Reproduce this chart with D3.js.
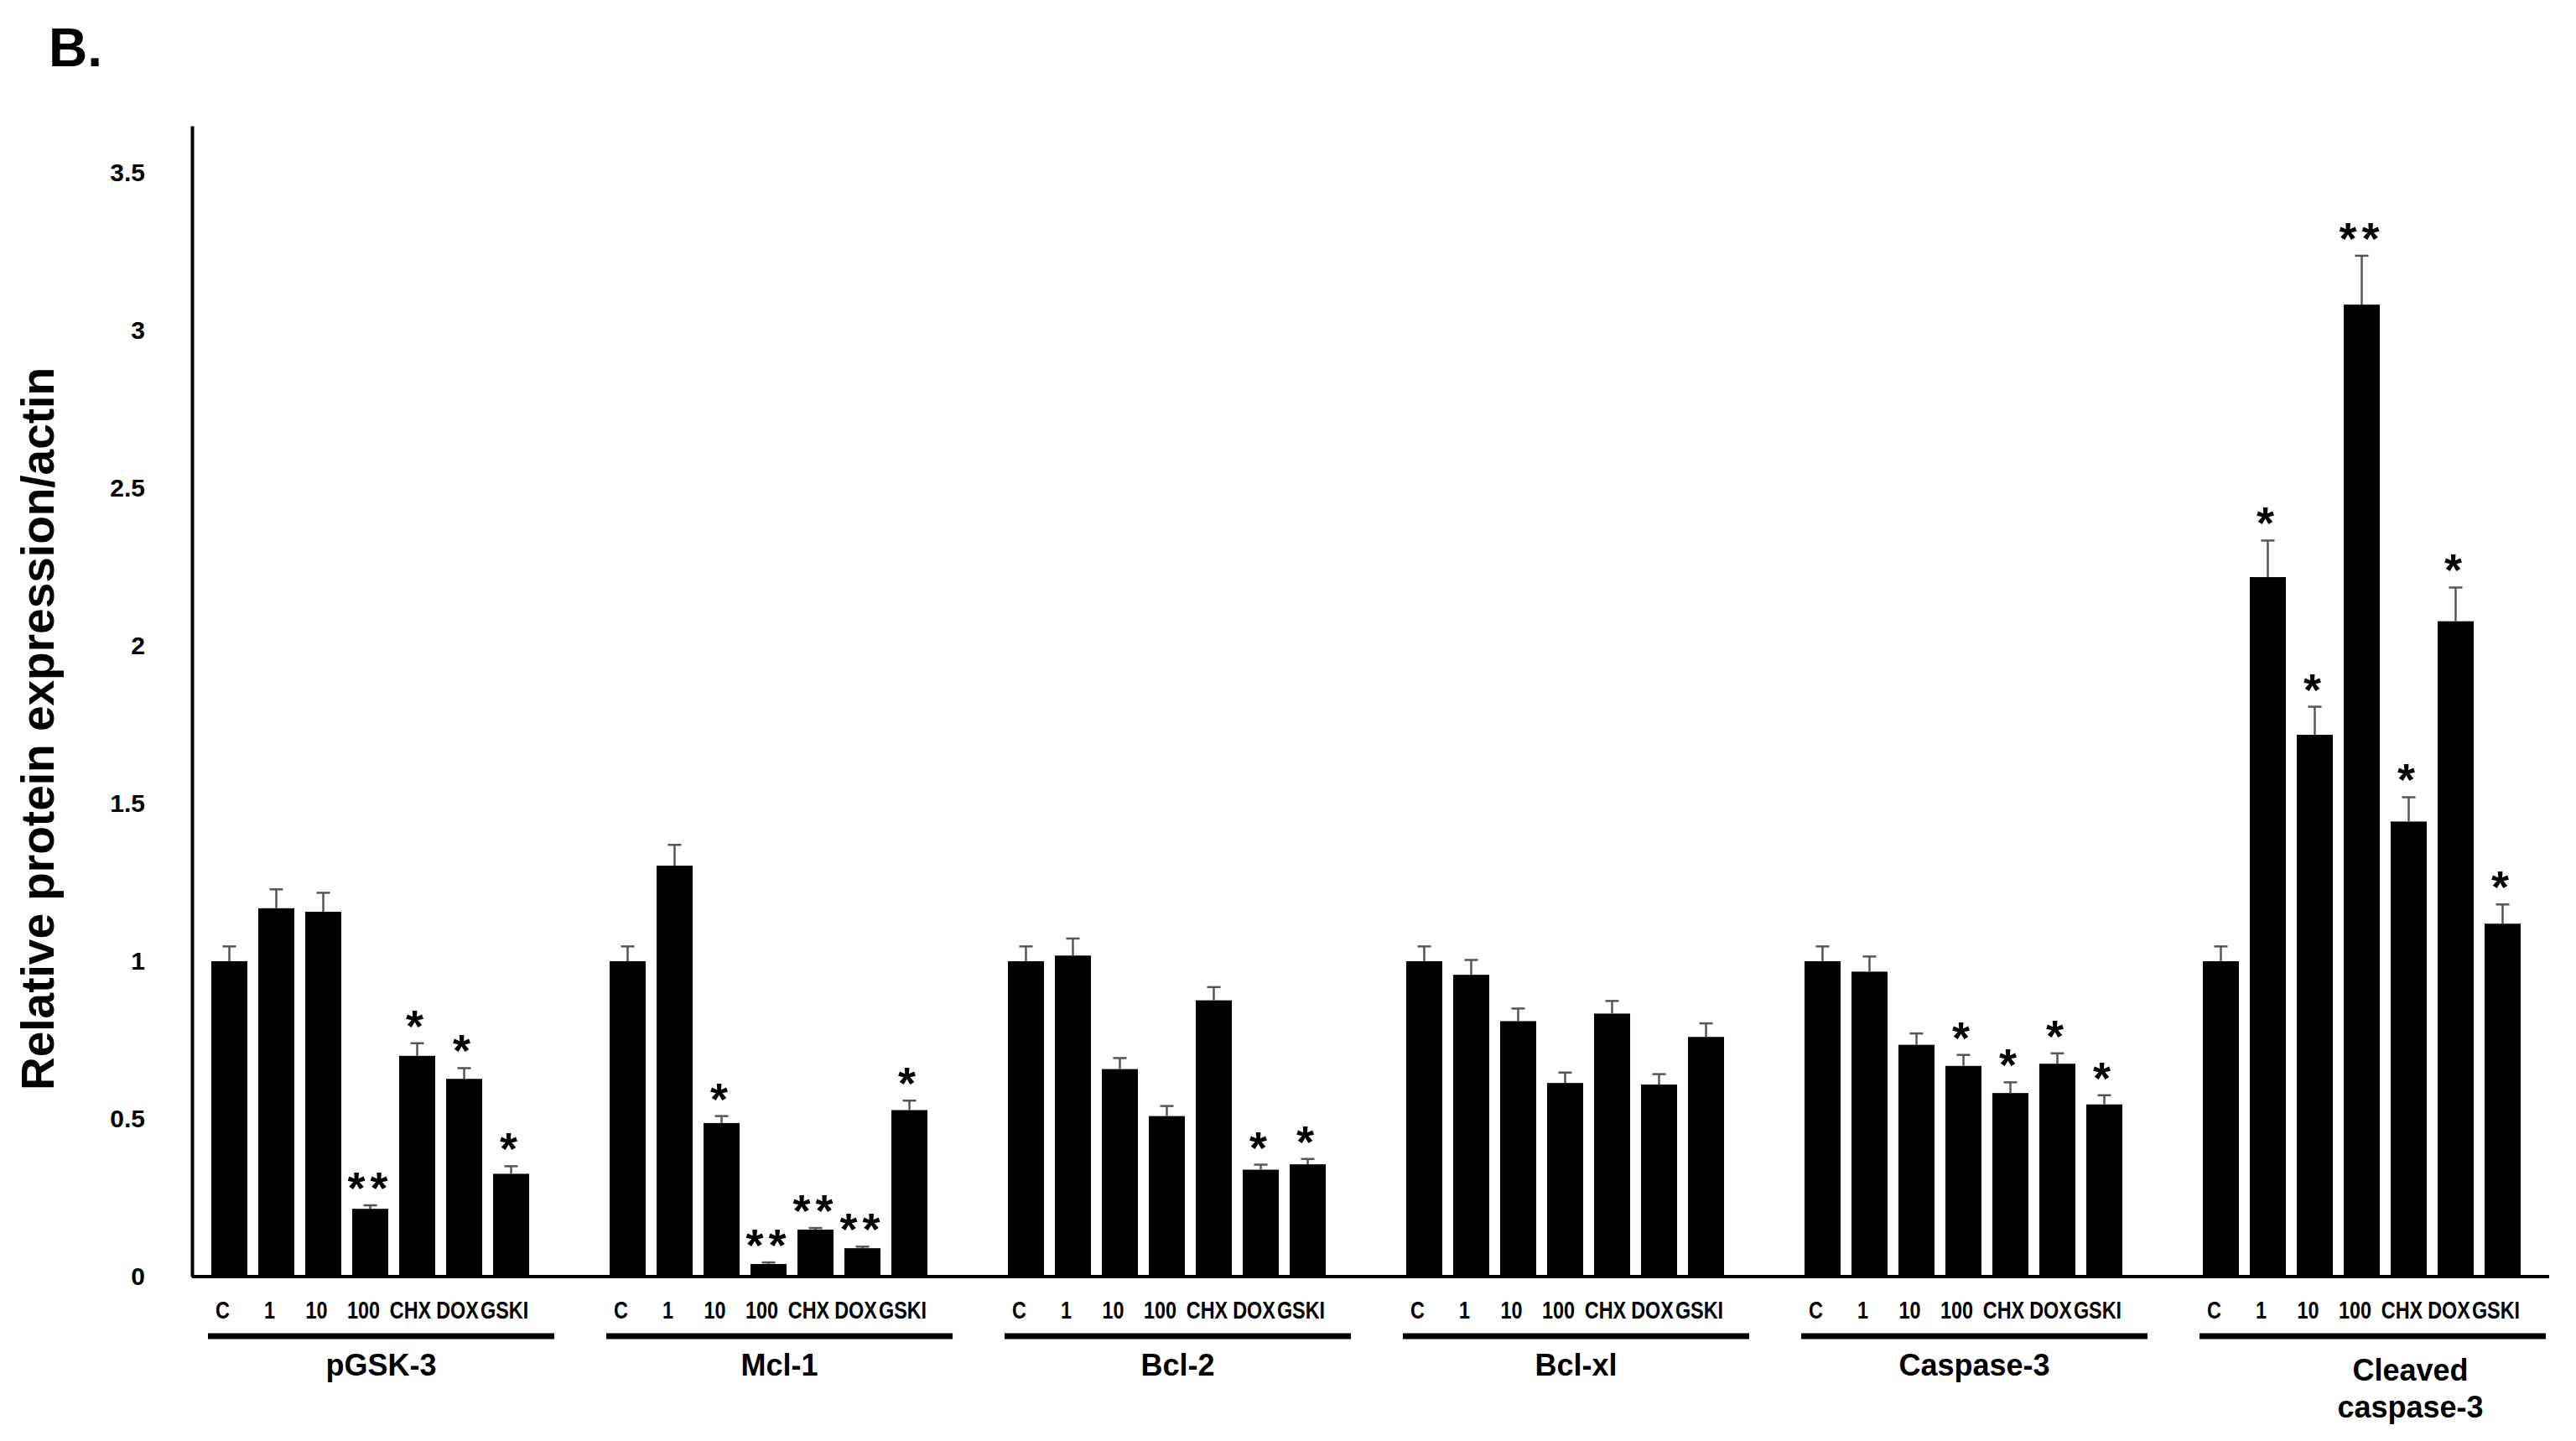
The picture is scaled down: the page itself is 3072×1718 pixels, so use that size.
<!DOCTYPE html>
<html>
<head>
<meta charset="utf-8">
<script src="https://cdn.jsdelivr.net/npm/d3@7"></script>
<style>
    body { margin: 0; background: #fff; }
    svg { display: block; font-family: "Liberation Sans", Arial, sans-serif; }
</style>
</head>
<body>
<svg id="chart"></svg>
<script>
// proteins (groups) and treatments (bars in each group)
const groups = ["pGSK-3", "Mcl-1", "Bcl-2", "Bcl-xl", "Caspase-3", "Cleaved caspase-3"];
const conditions = ["C", "1", "10", "100", "CHX", "DOX", "GSKI"];
const yTicks = [0, 0.5, 1, 1.5, 2, 2.5, 3, 3.5];

// means, one array per protein
const pGSK3 = [1.00, 1.168, 1.157, 0.215, 0.70, 0.627, 0.326];
const mcl1 = [1.00, 1.303, 0.487, 0.040, 0.149, 0.090, 0.528];
const bcl2 = [1.00, 1.018, 0.658, 0.509, 0.876, 0.339, 0.356];
const bclxl = [1.00, 0.957, 0.810, 0.614, 0.834, 0.609, 0.760];
const casp3 = [1.00, 0.967, 0.735, 0.668, 0.582, 0.675, 0.546];
const cleavedCasp3 = [1.00, 2.218, 1.718, 3.082, 1.443, 2.078, 1.119];

// upper error bars
const pGSK3Err = [0.047, 0.060, 0.060, 0.011, 0.040, 0.034, 0.024];
const mcl1Err = [0.047, 0.066, 0.022, 0.005, 0.005, 0.005, 0.030];
const bcl2Err = [0.047, 0.054, 0.035, 0.032, 0.042, 0.016, 0.017];
const bclxlErr = [0.047, 0.047, 0.040, 0.033, 0.040, 0.033, 0.043];
const casp3Err = [0.047, 0.048, 0.036, 0.035, 0.034, 0.033, 0.029];
const cleavedCasp3Err = [0.047, 0.116, 0.089, 0.155, 0.077, 0.107, 0.061];

// significance marks
const pGSK3Sig = ["", "", "", "**", "*", "*", "*"];
const mcl1Sig = ["", "", "*", "**", "**", "**", "*"];
const bcl2Sig = ["", "", "", "", "", "*", "*"];
const bclxlSig = ["", "", "", "", "", "", ""];
const casp3Sig = ["", "", "", "*", "*", "*", "*"];
const cleavedCasp3Sig = ["", "*", "*", "**", "*", "*", "*"];

const means = [pGSK3, mcl1, bcl2, bclxl, casp3, cleavedCasp3];
const errs = [pGSK3Err, mcl1Err, bcl2Err, bclxlErr, casp3Err, cleavedCasp3Err];
const sigs = [pGSK3Sig, mcl1Sig, bcl2Sig, bclxlSig, casp3Sig, cleavedCasp3Sig];

const rows = [];
groups.forEach((g, gi) => {
    conditions.forEach((c, ci) => {
        rows.push({ group: g, cond: c, value: means[gi][ci], err: errs[gi][ci], sig: sigs[gi][ci] });
    });
});

const width = 3072;
const height = 1718;

const svg = d3.select("#chart")
    .attr("width", width)
    .attr("height", height);

const y = d3.scaleLinear()
    .domain([0, 3.649])
    .range([1522, 150]);

const x0 = d3.scaleBand()
    .domain(groups)
    .range([252, 3006])
    .paddingInner(0.202)
    .paddingOuter(0);

const x1 = d3.scaleBand()
    .domain(conditions)
    .range([0, x0.bandwidth()])
    .paddingInner(0.232);

// panel letter
svg.append("text")
    .attr("x", 58)
    .attr("y", 79)
    .attr("font-size", 64)
    .attr("font-weight", "bold")
    .text("B.");

// y axis
const yAxis = svg.append("g")
    .attr("transform", "translate(229,0)")
    .call(d3.axisLeft(y)
        .tickValues(yTicks)
        .tickFormat(d => String(d))
        .tickSize(0)
        .tickPadding(56));

yAxis.select(".domain")
    .attr("stroke", "#000")
    .attr("stroke-width", 4);

yAxis.selectAll("text")
    .attr("font-size", 30)
    .attr("font-weight", "bold")
    .attr("fill", "#000")
    .attr("font-family", "'Liberation Sans', Arial, sans-serif");

// y title
svg.append("text")
    .attr("transform", "translate(64,869) rotate(-90)")
    .attr("text-anchor", "middle")
    .attr("font-size", 55)
    .attr("font-weight", "bold")
    .text("Relative protein expression/actin");

// bars
const bars = svg.append("g")
    .selectAll("g.bar")
    .data(rows)
    .join("g")
    .attr("class", "bar")
    .attr("transform", d => `translate(${x0(d.group) + x1(d.cond)},0)`);

bars.append("rect")
    .attr("x", 0)
    .attr("y", d => y(d.value))
    .attr("width", x1.bandwidth())
    .attr("height", d => y(0) - y(d.value))
    .attr("fill", "#000");

// upper error bars
const mid = x1.bandwidth() / 2;
bars.append("line")
    .attr("x1", mid).attr("x2", mid)
    .attr("y1", d => y(d.value))
    .attr("y2", d => y(d.value + d.err))
    .attr("stroke", "#555")
    .attr("stroke-width", 2.5);

bars.append("line")
    .attr("x1", mid - 8).attr("x2", mid + 8)
    .attr("y1", d => y(d.value + d.err))
    .attr("y2", d => y(d.value + d.err))
    .attr("stroke", "#555")
    .attr("stroke-width", 2.5);

// stars
bars.filter(d => d.sig)
    .append("text")
    .attr("x", mid)
    .attr("y", d => y(d.value + d.err) - 2)
    .attr("text-anchor", "middle")
    .attr("font-size", 54)
    .attr("font-weight", "bold")
    .attr("letter-spacing", 6)
    .text(d => d.sig);

// x baseline
svg.append("line")
    .attr("x1", 229).attr("x2", 3040)
    .attr("y1", y(0)).attr("y2", y(0))
    .attr("stroke", "#000")
    .attr("stroke-width", 4);

// treatment labels under each bar (squeezed, the original uses a narrow face)
bars.append("text")
    .attr("transform", `translate(${mid - 8},1572) scale(0.78,1)`)
    .attr("text-anchor", "middle")
    .attr("font-size", 30)
    .attr("font-weight", "bold")
    .text(d => d.cond);

// group underline and protein name
const groupG = svg.append("g")
    .selectAll("g.grp")
    .data(groups)
    .join("g")
    .attr("class", "grp")
    .attr("transform", d => `translate(${x0(d)},0)`);

groupG.append("line")
    .attr("x1", -4)
    .attr("x2", x0.bandwidth() + 30)
    .attr("y1", 1593).attr("y2", 1593)
    .attr("stroke", "#000")
    .attr("stroke-width", 7);

groupG.append("text")
    .attr("x", (x0.bandwidth() + 26) / 2)
    .attr("y", 1640)
    .attr("text-anchor", "middle")
    .attr("font-size", 36)
    .attr("font-weight", "bold")
    .each(function(d) {
        const t = d3.select(this);
        if (d === "Cleaved caspase-3") {
            t.attr("y", 1646);
            t.append("tspan").attr("x", (x0.bandwidth() + 26) / 2 + 45).text("Cleaved");
            t.append("tspan").attr("x", (x0.bandwidth() + 26) / 2 + 45).attr("dy", 44).text("caspase-3");
        } else {
            t.text(d);
        }
    });
</script>
</body>
</html>
